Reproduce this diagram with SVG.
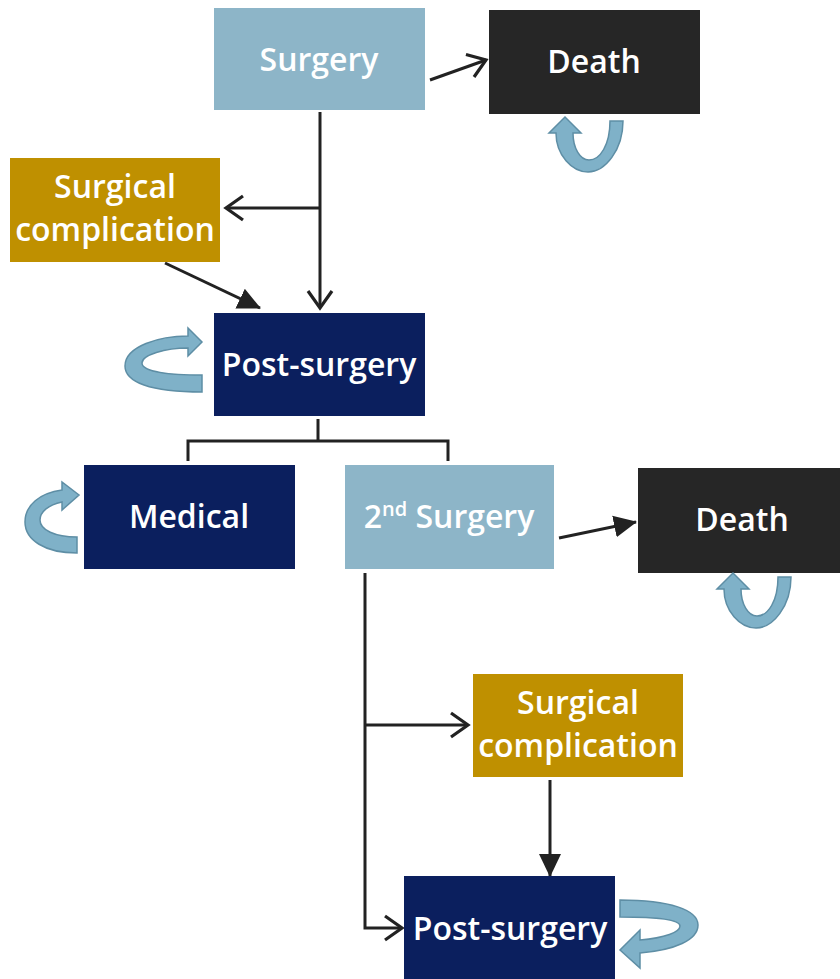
<svg xmlns="http://www.w3.org/2000/svg" width="840" height="979" viewBox="0 0 840 979">
<defs>
<style>
.lb{fill:#8db5c8}
.dk{fill:#262626}
.gd{fill:#bf9000}
.nv{fill:#0b1f5e}
.t{font-family:"Open Sans","Noto Sans",sans-serif;font-size:32px;font-weight:600;fill:#ffffff;text-anchor:middle}
.ln{stroke:#222;stroke-width:3;fill:none}
.loop{fill:#7fb1c8;stroke:#5e8ea5;stroke-width:1.5}
</style>
<marker id="open" viewBox="0 0 24 30" refX="21" refY="15" markerWidth="24" markerHeight="30" markerUnits="userSpaceOnUse" orient="auto">
<path d="M4,3 L21,15 L4,27" fill="none" stroke="#222" stroke-width="3.2"/>
</marker>
<marker id="fill" viewBox="0 0 24 24" refX="22" refY="12" markerWidth="24" markerHeight="24" markerUnits="userSpaceOnUse" orient="auto">
<path d="M0,1 L23,12 L0,23 Z" fill="#222"/>
</marker>
<path id="uloop" d="M623,121 C623,150 605,172 588,172 C572,172 556,155 556,133 L549,133 L565,117 L581,133 L573,133 C573,148 580,160 589,160 C600,160 610,145 610,121 Z"/>
</defs>
<g id="connectors">
<line class="ln" x1="430" y1="80" x2="486" y2="60" marker-end="url(#open)"/>
<line class="ln" x1="320" y1="112" x2="320" y2="308" marker-end="url(#open)"/>
<line class="ln" x1="320" y1="208" x2="226" y2="208" marker-end="url(#open)"/>
<line class="ln" x1="165" y1="263" x2="260" y2="308" marker-end="url(#fill)"/>
<polyline class="ln" points="318,419 318,441"/>
<polyline class="ln" points="188,461 188,441 448,441 448,461"/>
<line class="ln" x1="559" y1="538" x2="636" y2="522" marker-end="url(#fill)"/>
<polyline class="ln" points="365,573 365,928 402,928" marker-end="url(#open)"/>
<line class="ln" x1="365" y1="725" x2="468" y2="725" marker-end="url(#open)"/>
<line class="ln" x1="550" y1="780" x2="550" y2="876" marker-end="url(#fill)"/>
</g>
<g id="surgery"><rect class="lb" x="214" y="8" width="211" height="102"/><text class="t" x="319" y="71">Surgery</text></g>
<g id="death1"><rect class="dk" x="489" y="10" width="211" height="104"/><text class="t" x="594" y="73">Death</text><use href="#uloop" class="loop"/></g>
<g id="complication1"><rect class="gd" x="10" y="158" width="210" height="104"/><text class="t" x="115" y="198">Surgical</text><text class="t" x="115" y="241">complication</text></g>
<g id="postsurgery1"><rect class="nv" x="214" y="313" width="211" height="103"/><text class="t" x="319" y="376">Post-surgery</text><path class="loop" d="M202,392 C150,392 125,382 125,366 C125,346 160,336 188,336 L188,328 L202,342 L188,356 L188,348 C165,348 142,355 142,363 C142,372 170,375 202,375 Z"/></g>
<g id="medical"><rect class="nv" x="84" y="465" width="211" height="104"/><text class="t" x="189" y="528">Medical</text><path class="loop" d="M77,553 C45,553 25,540 25,522 C25,505 40,493 62,490 L62,482 L79,495 L62,510 L62,502 C48,505 40,512 40,520 C40,530 55,537 77,537 Z"/></g>
<g id="surgery2"><rect class="lb" x="345" y="465" width="209" height="104"/><text class="t" x="449" y="528">2<tspan font-size="20" dy="-12">nd</tspan><tspan dy="12"> Surgery</tspan></text></g>
<g id="death2"><rect class="dk" x="638" y="468" width="202" height="105"/><text class="t" x="742" y="531">Death</text><use href="#uloop" class="loop" transform="translate(168,456)"/></g>
<g id="complication2"><rect class="gd" x="473" y="674" width="210" height="103"/><text class="t" x="578" y="714">Surgical</text><text class="t" x="578" y="757">complication</text></g>
<g id="postsurgery2"><rect class="nv" x="404" y="876" width="211" height="103"/><text class="t" x="510" y="940">Post-surgery</text><path class="loop" d="M620,900 C670,900 698,910 698,925 C698,940 675,950 640,953 L640,968 L620,950 L640,930 L640,940 C665,938 680,932 680,926 C680,920 660,917 620,917 Z"/></g>
</svg>
